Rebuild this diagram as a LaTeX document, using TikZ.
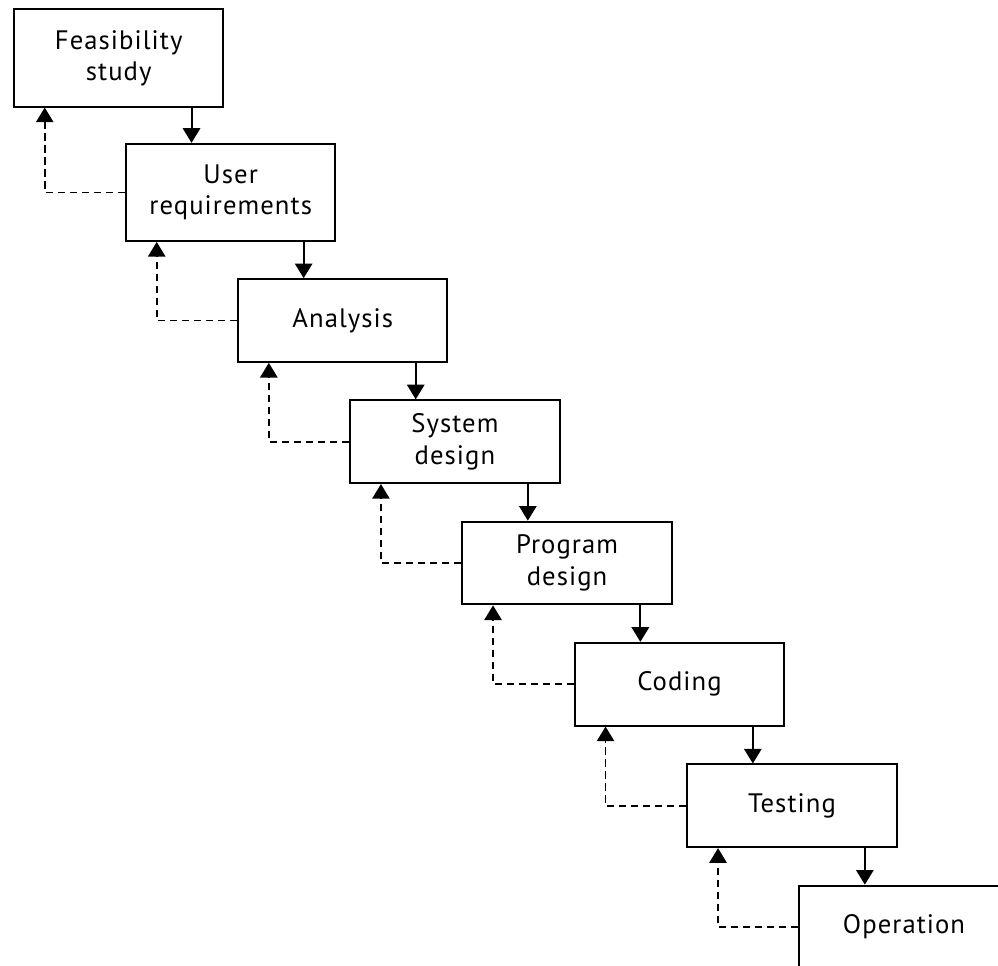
\documentclass[tikz,border=0pt]{standalone}
\usepackage{fontspec}
\setmainfont[LetterSpace=4]{PT Sans}
\usetikzlibrary{calc,arrows.meta}
\begin{document}
\begin{tikzpicture}[x=0.75pt,y=-0.75pt,
  stage/.style={draw=black,line width=1.5pt,minimum width=157pt,inner sep=0pt,
    align=center,font=\fontsize{20}{23.5}\selectfont},
  tall/.style={stage,minimum height=72.8pt},
  short/.style={stage,minimum height=62pt},
  flow/.style={line width=1.5pt,-{Triangle[length=11pt,width=13pt]}},
  back/.style={line width=1.2pt,dash pattern=on 5.5pt off 3.5pt,
    -{Triangle[length=11pt,width=13pt]}}]
\useasboundingbox (0,0) rectangle (998,965);
\clip (0,0) rectangle (998,965);

% process stages, stepping down to the right
\node[tall]  (s0) at (118.7,58)   {Feasibility\\study};
\node[tall]  (s1) at (230.7,192.4){User\\requirements};
\node[short] (s2) at (342.8,320.5){Analysis};
\node[short] (s3) at (454.9,441.7){System\\design};
\node[short] (s4) at (567,563)    {Program\\design};
\node[short] (s5) at (679.5,684.2){Coding};
\node[short] (s6) at (792,805.8)  {Testing};
\node[short] (s7) at (904,927)    {Operation};

% forward flow and feedback between consecutive stages
\foreach \a/\b in {s0/s1,s1/s2,s2/s3,s3/s4,s4/s5,s5/s6,s6/s7}{
  \coordinate (in-\b) at ($(\b.north west)+(66.5,0)$);
  \draw[flow] (\a.south -| in-\b) -- (in-\b);
  \coordinate (fb-\a) at ($(\a.south west)+(31.7,0)$);
  \draw[back] (\b.west) -| (fb-\a);
}
\end{tikzpicture}
\end{document}
